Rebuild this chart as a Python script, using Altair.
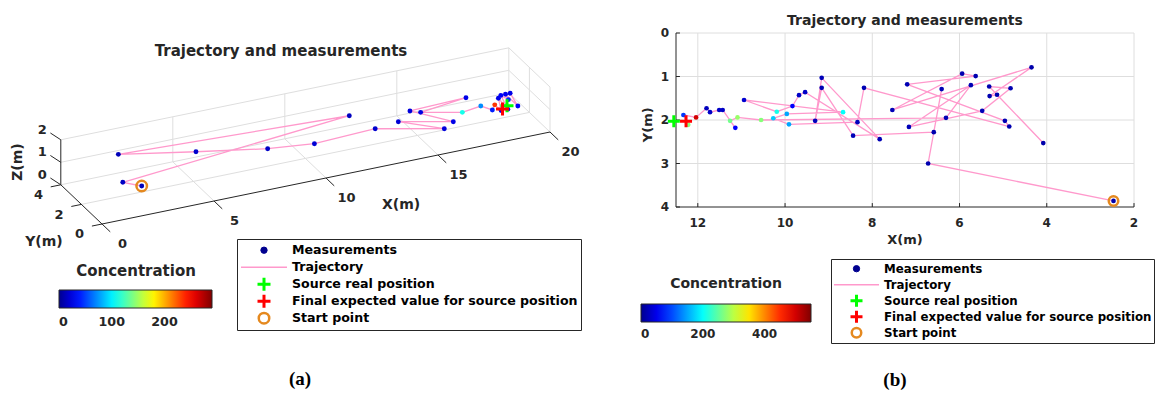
import altair as alt
import pandas as pd

# ---------------- shared names ----------------
TITLE = "Trajectory and measurements"
SERIES = ["Measurements", "Trajectory", "Source real position",
          "Final expected value for source position", "Start point"]
CBAR_TITLE = "Concentration"

# ---------------- panel (a): 3-D view (trajectory order) ----------------
a_x = [2.49, 1.94, 12.13, 2.16, 5.11, 7.86, 10.03, 12.84, 15.64, 13.96, 16.24, 14.80, 17.37,
       15.14, 17.02, 17.94, 18.3, 18.5, 18.6, 18.8, 18.9, 19.0, 19.2, 19.3, 19.3, 19.6]
a_y = [1.56, 2.20, 2.37, 3.11, 1.99, 1.01, 1.19, 1.40, 0.78, 1.59, 1.21, 2.29, 2.44,
       1.99, 2.03, 2.24, 1.9, 2.1, 1.7, 2.4, 1.7, 2.6, 2.3, 2.8, 1.6, 3.0]
a_z = [0.5, 0.5, 1.3, 1.3, 1.3, 1.3, 1.0, 1.0, 0.7, 1.0, 0.7, 1.0, 1.0,
       1.0, 0.6, 0.6, 0.5, 0.6, 0.5, 0.7, 0.5, 0.7, 0.6, 0.6, 0.6, 0.5]
a_conc = [12, 15, 14, 12, 18, 16, 20, 18, 22, 20, 25, 22, 25,
          24, 110, 72, 40, 235, 30, 25, 35, 30, 45, 28, 30, 25]
a_source = [19.0, 2.0, 0.5]
a_final = [18.8, 2.0, 0.4]
a_xticks = [0, 5, 10, 15, 20]
a_yticks = [0, 2, 4]
a_zticks = [0, 1, 2]
a_cbar_ticks = [0, 100, 200]
a_cmax = 290

# ---------------- panel (b): top view (trajectory order) ----------------
b_x = [2.47, 6.72, 6.41, 6.59, 8.44, 9.16, 9.31, 9.16, 7.83, 9.54, 9.68, 9.83, 10.19,
       10.94, 8.67, 9.96, 10.27, 9.91, 8.34, 8.19, 4.86, 4.96, 7.20, 5.63, 5.94, 7.54,
       4.35, 5.31, 5.14, 4.08, 5.32, 4.83, 5.48, 7.16, 5.74, 6.31, 10.55, 11.09, 11.26,
       11.14, 11.43, 11.51, 11.72, 11.80, 12.04, 12.33, 12.22]
b_y = [3.86, 3.00, 1.29, 2.28, 2.36, 1.26, 2.02, 1.03, 2.44, 1.36, 1.43, 1.68, 1.81,
       1.54, 1.82, 1.86, 1.96, 2.10, 2.05, 1.26, 2.15, 2.02, 1.18, 0.99, 0.935, 1.77,
       0.79, 1.45, 1.42, 2.53, 1.23, 1.27, 1.79, 2.16, 1.20, 1.95, 2.00, 1.94, 2.02,
       2.18, 1.77, 1.77, 1.82, 1.73, 1.94, 1.885, 2.11]
b_conc = [15, 18, 20, 18, 22, 20, 25, 22, 20, 30, 30, 60, 210,
          35, 200, 150, 170, 150, 25, 20, 18, 20, 20, 18, 18, 22,
          15, 18, 18, 15, 18, 18, 22, 22, 20, 20, 270, 280, 260,
          60, 30, 30, 30, 25, 500, 90, 270]
b_source = [12.55, 2.03]
b_final = [12.27, 2.03]
b_xlim = [12.5, 2]
b_ylim = [0, 4]
b_xticks = [12, 10, 8, 6, 4, 2]
b_yticks = [0, 1, 2, 3, 4]
b_cbar_ticks = [0, 200, 400]
b_cmax = 550

# ---------------- style ----------------
FONT = "DejaVu Sans"
SERIF = "Liberation Serif"
INK = "#262626"
GRID = "#DEDEDE"
PINK = "#FF99CC"
NAVY = "#00008F"
ORANGE = "#E5891F"
JET = ["#00008F", "#0000FF", "#00FFFF", "#FFFF00", "#FF0000", "#800000"]
JET_POS = [0, 0.11, 0.36, 0.61, 0.86, 1.0]
CROSS = "M-1,0L1,0M0,-1L0,1"


def jet_scale(cmax):
    return alt.Scale(domain=[p * cmax for p in JET_POS], range=JET, interpolate="rgb")


def cbar_legend(x, y, length, ticks, tsize, lsize, tpad, loff):
    return alt.Legend(title=CBAR_TITLE, orient="none", legendX=x, legendY=y,
                      direction="horizontal", gradientLength=length, gradientThickness=18,
                      gradientStrokeColor=INK, gradientStrokeWidth=1, values=ticks,
                      titleFont=FONT, titleFontSize=tsize, titleFontWeight="bold",
                      titleColor=INK, titleAnchor="middle", titlePadding=tpad,
                      labelFont=FONT, labelFontSize=lsize, labelFontWeight="bold",
                      labelColor=INK, labelOffset=loff, labelAlign="center",
                      padding=0, format="d")


def series_legend(x, y, lsize, row_h, pad):
    return alt.Legend(title=None, orient="none", legendX=x, legendY=y, direction="vertical",
                      padding=pad, strokeColor=INK, fillColor="white", labelFont=FONT,
                      labelFontSize=lsize, labelFontWeight="bold", labelColor="black",
                      labelOffset=4, labelLimit=600, rowPadding=0, clipHeight=row_h,
                      symbolOpacity=1)


def series_channels(legend, traj_len, cross, ring):
    def sc(rng, typ=None):
        if typ:
            return alt.Scale(type=typ, domain=SERIES, range=rng)
        return alt.Scale(domain=SERIES, range=rng)
    return dict(
        shape=alt.Shape("series:N", scale=sc(["circle", "stroke", CROSS, CROSS, "circle"]), legend=legend),
        fill=alt.Fill("series:N", scale=sc([NAVY, "transparent", "transparent", "transparent", "transparent"]), legend=legend),
        stroke=alt.Stroke("series:N", scale=sc([NAVY, PINK, "#00FF00", "#FF0000", ORANGE]), legend=legend),
        size=alt.Size("series:N", scale=sc([40, traj_len ** 2, cross, cross, ring], "ordinal"), legend=legend),
        strokeWidth=alt.StrokeWidth("series:N", scale=sc([1, 1.5, 3, 3, 2.5], "ordinal"), legend=legend),
    )


# =============== panel (a) ===============
def pu(x, y, z):
    return x - 0.4598 * y


def pv(x, y, z):
    return z + 0.2044 * x + 0.4356 * y


UA = alt.Scale(domain=[0, 20], range=[102, 550])
VA = alt.Scale(domain=[0, 2], range=[224, 179])


def XA(f):
    return alt.X(f, type="quantitative", scale=UA, axis=None)


def YA(f):
    return alt.Y(f, type="quantitative", scale=VA, axis=None)


XM, YM, ZM = a_xticks[-1], a_yticks[-1], a_zticks[-1]


def seg_df(segs):
    rows = []
    for p, q in segs:
        rows.append(dict(u1=pu(*p), v1=pv(*p), u2=pu(*q), v2=pv(*q)))
    return pd.DataFrame(rows)


grid_segs = []
for x in a_xticks[1:]:
    grid_segs.append(((x, 0, 0), (x, YM, 0)))
    grid_segs.append(((x, YM, 0), (x, YM, ZM)))
for y in a_yticks[1:]:
    grid_segs.append(((0, y, 0), (XM, y, 0)))
for z in a_zticks[1:]:
    grid_segs.append(((0, YM, z), (XM, YM, z)))
    grid_segs.append(((XM, 0, z), (XM, YM, z)))
for y in a_yticks[:-1]:
    grid_segs.append(((XM, y, 0), (XM, y, ZM)))

axis_segs = [((0, 0, 0), (XM, 0, 0)), ((0, 0, 0), (0, YM, 0)), ((0, YM, 0), (0, YM, ZM))]
axis_segs += [((x, 0, 0), (x, -0.8, 0)) for x in a_xticks]
axis_segs += [((0, y, 0), (-0.45, y, 0)) for y in a_yticks]
axis_segs += [((0, YM, z), (-0.12, YM + 0.75, z)) for z in a_zticks]


def rules_a(df, color):
    return alt.Chart(df).mark_rule(color=color, strokeWidth=1).encode(
        x=XA("u1"), y=YA("v1"), x2="u2:Q", y2="v2:Q")


grid_a = rules_a(seg_df(grid_segs), GRID)
axes_a = rules_a(seg_df(axis_segs), INK)

tick_pts = ([(str(x), (x, -2.0, 0)) for x in a_xticks] +
            [(str(y), (-1.0, y, -0.25)) for y in a_yticks] +
            [(str(z), (-0.3, YM + 1.15, z)) for z in a_zticks])
ticklab_a_df = pd.DataFrame([dict(t=t, u=pu(*p), v=pv(*p)) for t, p in tick_pts])
ticklab_a = alt.Chart(ticklab_a_df).mark_text(
    font=FONT, fontSize=13, fontWeight="bold", color=INK).encode(x=XA("u"), y=YA("v"), text="t:N")

axtitle_pts = [("X(m)", (11.7, -3.6, 0)), ("Y(m)", (-2.59, 0, -0.27))]
axtitle_a_df = pd.DataFrame([dict(t=t, u=pu(*p), v=pv(*p)) for t, p in axtitle_pts])
axtitle_a = alt.Chart(axtitle_a_df).mark_text(
    font=FONT, fontSize=14, fontWeight="bold", color=INK).encode(x=XA("u"), y=YA("v"), text="t:N")
zt = (-1.91, 4, 1.4)
ztitle_a = alt.Chart(pd.DataFrame([dict(t="Z(m)", u=pu(*zt), v=pv(*zt))])).mark_text(
    font=FONT, fontSize=14, fontWeight="bold", color=INK, angle=270).encode(
    x=XA("u"), y=YA("v"), text="t:N")

a_df = pd.DataFrame(dict(i=range(len(a_x)), x=a_x, y=a_y, z=a_z, conc=a_conc))
a_df["u"] = pu(a_df.x, a_df.y, a_df.z)
a_df["v"] = pv(a_df.x, a_df.y, a_df.z)

traj_a = alt.Chart(a_df).mark_line(color=PINK, strokeWidth=1.3).encode(
    x=XA("u"), y=YA("v"), order="i:Q")
pts_a = alt.Chart(a_df).mark_circle(size=24, opacity=1).encode(
    x=XA("u"), y=YA("v"),
    color=alt.Color("conc:Q", scale=jet_scale(a_cmax),
                    legend=cbar_legend(59, 264, 153, a_cbar_ticks, 15, 12.7, 11, 8)))

a_spec_pts = [(SERIES[2], a_source), (SERIES[3], a_final),
              (SERIES[4], (a_x[0], a_y[0], a_z[0]))]
a_spec_df = pd.DataFrame([dict(series=s, u=pu(*p), v=pv(*p)) for s, p in a_spec_pts])
special_a = alt.Chart(a_spec_df).mark_point(opacity=1).encode(
    x=XA("u"), y=YA("v"), **series_channels(series_legend(237, 239, 12.6, 16.4, 3), 46, 169, 110))

text_a_df = pd.DataFrame(dict(t=[TITLE], u=[7.99], v=[7.71]))
title_a = alt.Chart(text_a_df).mark_text(font=FONT, fontSize=15, fontWeight="bold", color=INK).encode(
    x=XA("u"), y=YA("v"), text="t:N")
cap_a = alt.Chart(pd.DataFrame(dict(t=["(a)"], u=[8.84], v=[-6.89]))).mark_text(
    font=SERIF, fontSize=19, fontWeight="bold", color="black").encode(x=XA("u"), y=YA("v"), text="t:N")

panel_a = alt.layer(grid_a, axes_a, ticklab_a, axtitle_a, ztitle_a, traj_a, pts_a, special_a,
                    title_a, cap_a)

# =============== panel (b) ===============
XB = alt.Scale(domain=b_xlim, range=[676, 1134])
YB = alt.Scale(domain=b_ylim, range=[33, 207])


def XBn(f):
    return alt.X(f, type="quantitative", scale=XB, axis=None)


def YBn(f):
    return alt.Y(f, type="quantitative", scale=YB, axis=None)


def txt(size, **kw):
    return dict(font=FONT, fontSize=size, fontWeight="bold", color=INK, **kw)


vgrid_b = alt.Chart(pd.DataFrame(dict(x=b_xticks, y0=b_ylim[0], y1=b_ylim[1]))).mark_rule(
    color=GRID, strokeWidth=1).encode(x=XBn("x"), y=YBn("y0"), y2="y1:Q")
hgrid_b = alt.Chart(pd.DataFrame(dict(y=b_yticks[:-1], x0=b_xlim[0], x1=b_xlim[1]))).mark_rule(
    color=GRID, strokeWidth=1).encode(y=YBn("y"), x=XBn("x0"), x2="x1:Q")
# axis lines (left and bottom) and inward ticks
dom_b = alt.Chart(pd.DataFrame(dict(x0=[b_xlim[0], b_xlim[0]], x1=[b_xlim[0], b_xlim[1]],
                                    y0=[b_ylim[0], b_ylim[1]], y1=[b_ylim[1], b_ylim[1]]))).mark_rule(
    color=INK, strokeWidth=1).encode(x=XBn("x0"), x2="x1:Q", y=YBn("y0"), y2="y1:Q")
xt_b = alt.Chart(pd.DataFrame(dict(x=b_xticks, y0=b_ylim[1], y1=b_ylim[1] - 0.09))).mark_rule(
    color=INK, strokeWidth=1).encode(x=XBn("x"), y=YBn("y0"), y2="y1:Q")
yt_b = alt.Chart(pd.DataFrame(dict(y=b_yticks, x0=b_xlim[0], x1=b_xlim[0] - 0.09))).mark_rule(
    color=INK, strokeWidth=1).encode(y=YBn("y"), x=XBn("x0"), x2="x1:Q")
# tick labels, placed just outside the axis lines
xl_b = alt.Chart(pd.DataFrame(dict(x=b_xticks, y=b_ylim[1] + 0.37))).mark_text(**txt(12)).encode(
    x=XBn("x"), y=YBn("y"), text=alt.Text("x:Q", format="d"))
yl_b = alt.Chart(pd.DataFrame(dict(y=b_yticks, x=b_xlim[0] + 0.16))).mark_text(**txt(12, align="right")).encode(
    x=XBn("x"), y=YBn("y"), text=alt.Text("y:Q", format="d"))
xtitle_b = alt.Chart(pd.DataFrame(dict(t=["X(m)"], x=[7.25], y=[b_ylim[1] + 0.76]))).mark_text(
    **txt(13)).encode(x=XBn("x"), y=YBn("y"), text="t:N")
ytitle_b = alt.Chart(pd.DataFrame(dict(t=["Y(m)"], x=[b_xlim[0] + 0.65], y=[2.11]))).mark_text(
    **txt(13, angle=270)).encode(x=XBn("x"), y=YBn("y"), text="t:N")

b_df = pd.DataFrame(dict(i=range(len(b_x)), x=b_x, y=b_y, conc=b_conc))
traj_b = alt.Chart(b_df).mark_line(color=PINK, strokeWidth=1.3).encode(
    x=XBn("x"), y=YBn("y"), order="i:Q")
pts_b = alt.Chart(b_df).mark_circle(size=22, opacity=1).encode(
    x=XBn("x"), y=YBn("y"),
    color=alt.Color("conc:Q", scale=jet_scale(b_cmax),
                    legend=cbar_legend(641, 277, 170, b_cbar_ticks, 14, 12, 13, 7)))

b_spec_df = pd.DataFrame(dict(series=SERIES[2:], x=[b_source[0], b_final[0], b_x[0]],
                              y=[b_source[1], b_final[1], b_y[0]]))
special_b = alt.Chart(b_spec_df).mark_point(opacity=1).encode(
    x=XBn("x"), y=YBn("y"), **series_channels(series_legend(831, 259, 11.8, 15.4, 2), 45, 144, 90))

title_b = alt.Chart(pd.DataFrame(dict(t=[TITLE], x=[7.25], y=[-0.287]))).mark_text(
    **txt(14)).encode(x=XBn("x"), y=YBn("y"), text="t:N")
cap_b = alt.Chart(pd.DataFrame(dict(t=["(b)"], x=[7.48], y=[7.98]))).mark_text(
    font=SERIF, fontSize=19, fontWeight="bold", color="black").encode(x=XBn("x"), y=YBn("y"), text="t:N")

panel_b = alt.layer(vgrid_b, hgrid_b, dom_b, xt_b, yt_b, xl_b, yl_b, xtitle_b, ytitle_b,
                    traj_b, pts_b, special_b, title_b, cap_b)

chart = alt.layer(panel_a, panel_b).resolve_scale(
    x="independent", y="independent", color="independent", shape="independent",
    fill="independent", stroke="independent", size="independent", strokeWidth="independent"
).properties(
    width=1156, height=396, padding=0, background="white",
    autosize=alt.AutoSizeParams(type="none")
).configure_view(stroke=None)

chart.save("out.html", embed_options={"renderer": "svg", "actions": False})
